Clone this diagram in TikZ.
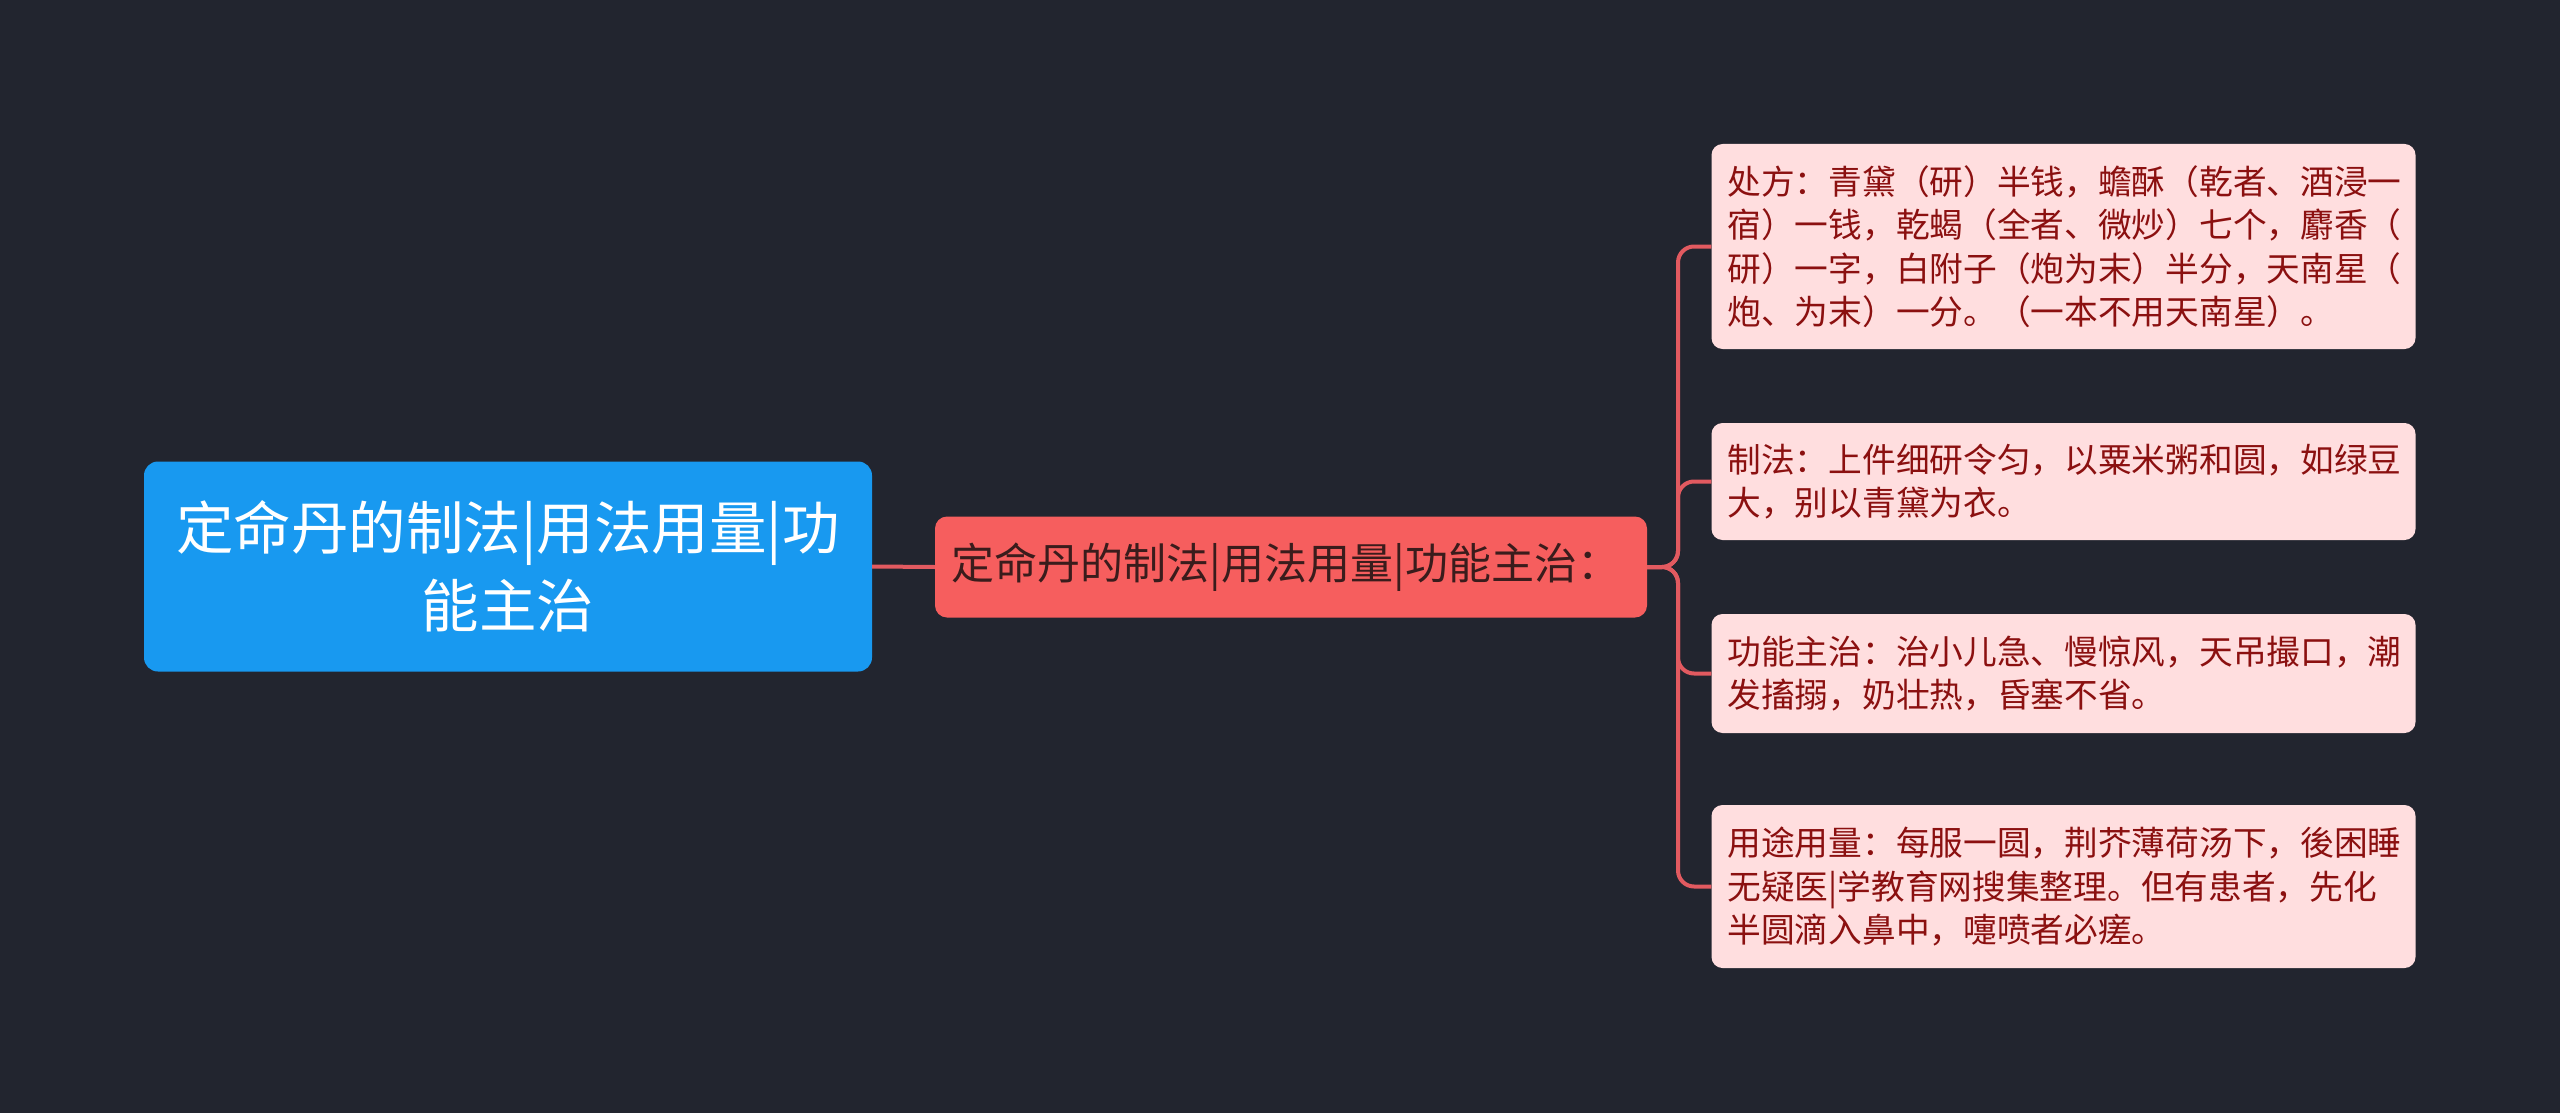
\documentclass[tikz,border=0pt]{standalone}
\usepackage{fontspec}
\setmainfont{Noto Sans CJK SC}
\definecolor{bg}{HTML}{22252F}
\definecolor{rootc}{HTML}{1899F0}
\definecolor{midc}{HTML}{F65E5E}
\definecolor{leafc}{HTML}{FFDEDF}
\definecolor{leaft}{HTML}{8B1010}
\definecolor{midt}{HTML}{3A1C1C}
\definecolor{linec}{HTML}{E25A60}
\begin{document}
\begin{tikzpicture}[x=1pt,y=-1pt,
  rootbox/.style={fill=rootc,rounded corners=14pt,minimum width=728pt,minimum height=210pt,text=white,align=center,font=\fontsize{57.5}{78}\selectfont,inner sep=0pt},
  midbox/.style={fill=midc,rounded corners=12pt,minimum width=712pt,minimum height=101pt,text=midt,align=left,font=\fontsize{43}{50}\selectfont,inner sep=0pt},
  leafbox/.style={fill=leafc,rounded corners=11pt,minimum width=704pt,text width=672pt,text=leaft,align=left,font=\fontsize{33.7}{43.5}\selectfont,inner xsep=16pt,inner ysep=0pt},
  conn/.style={draw=linec,line width=4pt,rounded corners=16pt}]
\fill[bg] (0,0) rectangle (2560,1113);
\useasboundingbox (0,0) rectangle (2560,1113);
\node[rootbox] (root) at (508,566.5) {定命丹的制法|用法用量|功\\能主治};
\node[midbox] (mid) at (1291,567) {定命丹的制法|用法用量|功能主治：\hspace*{10pt}};
\node[leafbox,minimum height=205pt] (b1) at (2063.5,246.5) {处方：青黛（研）半钱，蟾酥（乾者、酒浸一\\宿）一钱，乾蝎（全者、微炒）七个，麝香（\\研）一字，白附子（炮为末）半分，天南星（\\炮、为末）一分。（一本不用天南星）。};
\node[leafbox,minimum height=117pt] (b2) at (2063.5,481.5) {制法：上件细研令匀，以粟米粥和圆，如绿豆\\大，别以青黛为衣。};
\node[leafbox,minimum height=119pt] (b3) at (2063.5,673.5) {功能主治：治小儿急、慢惊风，天吊撮口，潮\\发搐搦，奶壮热，昏塞不省。};
\node[leafbox,minimum height=163pt] (b4) at (2063.5,886.5) {用途用量：每服一圆，荆芥薄荷汤下，後困睡\\无疑医|学教育网搜集整理。但有患者，先化\\半圆滴入鼻中，嚏喷者必瘥。};
\coordinate (trunk) at (1678,567);
\draw[conn] (root.east) -- (mid.west);
\draw[conn] (mid.east) -- (trunk) |- (b1.west);
\draw[conn] (mid.east) -- (trunk) |- (b2.west);
\draw[conn] (mid.east) -- (trunk) |- (b3.west);
\draw[conn] (mid.east) -- (trunk) |- (b4.west);
\end{tikzpicture}
\end{document}
